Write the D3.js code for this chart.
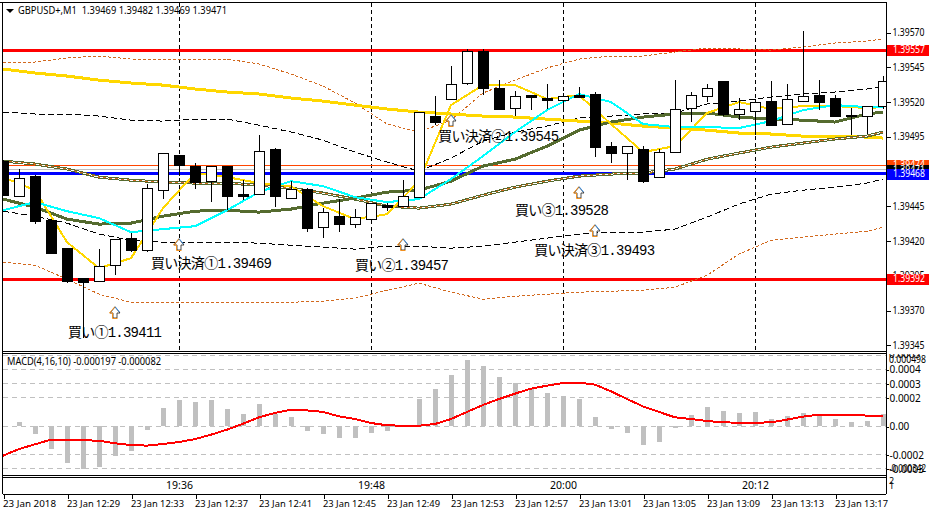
<!DOCTYPE html>
<html><head><meta charset="utf-8">
<script src="https://cdn.jsdelivr.net/npm/d3@7/dist/d3.min.js"></script>
<style>html,body{margin:0;padding:0;background:#fff;overflow:hidden}svg{display:block}</style>
</head><body><svg id="c" width="929" height="515"></svg>
<script>
const open=[1.394771,1.394519,1.394663,1.394346,1.394145,1.393929,1.393907,1.394022,1.394217,1.394130,1.394562,1.394814,1.394735,1.394627,1.394735,1.394534,1.394534,1.394858,1.394505,1.394569,1.394296,1.394375,1.394318,1.394354,1.394454,1.394447,1.394512,1.395095,1.395218,1.395333,1.395563,1.395297,1.395153,1.395246,1.395225,1.395214,1.395246,1.395254,1.394879,1.394829,1.394858,1.394656,1.394836,1.395153,1.395239,1.395347,1.395110,1.395131,1.395203,1.395038,1.395203,1.395246,1.395225,1.395102,1.395095,1.395167];
const close=[1.394526,1.394649,1.394339,1.394109,1.393907,1.393900,1.394015,1.394210,1.394130,1.394577,1.394829,1.394742,1.394620,1.394735,1.394519,1.394519,1.394843,1.394519,1.394569,1.394289,1.394404,1.394318,1.394368,1.394469,1.394440,1.394519,1.395124,1.395052,1.395326,1.395563,1.395297,1.395146,1.395239,1.395232,1.395210,1.395236,1.395232,1.394872,1.394829,1.394879,1.394627,1.394836,1.395146,1.395246,1.395297,1.395110,1.395146,1.395196,1.395030,1.395218,1.395239,1.395196,1.395095,1.395095,1.395167,1.395347];
const high=[1.394778,1.394714,1.394670,1.394346,1.394145,1.393929,1.394138,1.394210,1.394253,1.394606,1.394829,1.394814,1.394757,1.394735,1.394735,1.394634,1.394958,1.394865,1.394627,1.394577,1.394433,1.394498,1.394426,1.394469,1.394469,1.394634,1.395124,1.395239,1.395455,1.395578,1.395578,1.395354,1.395275,1.395246,1.395326,1.395261,1.395304,1.395268,1.394908,1.394879,1.394879,1.394858,1.395354,1.395268,1.395326,1.395347,1.395225,1.395218,1.395347,1.395326,1.395707,1.395354,1.395246,1.395153,1.395167,1.395383];
const low=[1.394526,1.394512,1.394318,1.394102,1.393893,1.393497,1.393907,1.393950,1.394116,1.394116,1.394498,1.394663,1.394569,1.394476,1.394418,1.394490,1.394534,1.394440,1.394505,1.394260,1.394217,1.394260,1.394289,1.394354,1.394411,1.394447,1.394512,1.395030,1.395218,1.395318,1.395246,1.395146,1.395095,1.395138,1.395146,1.395124,1.395232,1.394800,1.394757,1.394634,1.394613,1.394656,1.394836,1.395052,1.395196,1.395095,1.395066,1.394958,1.395030,1.395038,1.395203,1.395138,1.395088,1.394958,1.394966,1.395146];
const lineIndex=[0,2,4,6,8,10,12,14,16,18,20,22,24,26,28,30,32,34,36,38,40,42,44,46,48,50,52,54,55];
const bandOuterUp=[1.395484,1.395484,1.395513,1.395527,1.395505,1.395505,1.395505,1.395505,1.395470,1.395398,1.395311,1.395189,1.395038,1.394980,1.395066,1.395261,1.395354,1.395441,1.395505,1.395527,1.395527,1.395556,1.395585,1.395578,1.395570,1.395592,1.395621,1.395635,1.395650];
const bandInnerUp=[1.395124,1.395110,1.395110,1.395095,1.395066,1.395059,1.395073,1.395073,1.395030,1.394980,1.394922,1.394836,1.394764,1.394699,1.394793,1.394915,1.394980,1.395023,1.395081,1.395095,1.395110,1.395117,1.395182,1.395203,1.395232,1.395254,1.395268,1.395290,1.395304];
const bandInnerLo=[1.394411,1.394375,1.394325,1.394246,1.394202,1.394188,1.394188,1.394188,1.394181,1.394166,1.394152,1.394138,1.394159,1.394159,1.394145,1.394159,1.394188,1.394217,1.394246,1.394260,1.394260,1.394282,1.394368,1.394462,1.394534,1.394562,1.394584,1.394613,1.394642];
const bandOuterLo=[1.394044,1.394022,1.393922,1.393814,1.393756,1.393756,1.393756,1.393756,1.393756,1.393756,1.393763,1.393785,1.393842,1.393893,1.393828,1.393778,1.393799,1.393814,1.393828,1.393835,1.393842,1.393864,1.393950,1.394102,1.394202,1.394224,1.394246,1.394267,1.394296];
const maSlow=[1.395434,1.395405,1.395383,1.395354,1.395333,1.395318,1.395290,1.395268,1.395254,1.395225,1.395203,1.395174,1.395146,1.395124,1.395110,1.395095,1.395088,1.395073,1.395059,1.395045,1.395023,1.395009,1.394994,1.394973,1.394966,1.394951,1.394951,1.394944,1.394937];
const maOlive=[1.394498,1.394440,1.394354,1.394318,1.394325,1.394375,1.394411,1.394418,1.394404,1.394426,1.394469,1.394505,1.394548,1.394562,1.394627,1.394735,1.394785,1.394879,1.394994,1.395052,1.395088,1.395110,1.395117,1.395088,1.395073,1.395066,1.395052,1.395110,1.395124];
const maLong=[1.394771,1.394750,1.394714,1.394656,1.394634,1.394620,1.394613,1.394613,1.394598,1.394577,1.394541,1.394498,1.394447,1.394433,1.394462,1.394526,1.394584,1.394627,1.394663,1.394678,1.394685,1.394714,1.394785,1.394829,1.394872,1.394901,1.394930,1.394951,1.394980];
const maCyan=[1.394418,1.394476,1.394411,1.394361,1.394260,1.394282,1.394303,1.394418,1.394548,1.394627,1.394591,1.394512,1.394476,1.394498,1.394642,1.394807,1.394980,1.395138,1.395254,1.395196,1.395038,1.395016,1.395016,1.395009,1.395059,1.395138,1.395174,1.395160,1.395160];
const maFast=[1.394656,1.394562,1.394188,1.394001,1.394073,1.394433,1.394685,1.394656,1.394613,1.394591,1.394447,1.394354,1.394389,1.394627,1.395174,1.395318,1.395318,1.395218,1.395246,1.395038,1.394836,1.394879,1.395117,1.395196,1.395146,1.395167,1.395167,1.395153,1.395160];
const macdHist=[0.000002,0.000031,-0.000054,-0.00016,-0.000258,-0.000305,-0.000286,-0.000209,-0.000174,-0.000026,0.000129,0.000185,0.000171,0.000185,0.000122,0.000087,0.000157,0.000087,0.000066,-0.000033,-0.000054,-0.000082,-0.000082,-0.000047,-0.000033,-0.000004,0.000192,0.000263,0.000361,0.000467,0.000425,0.000347,0.000305,0.000263,0.000235,0.000214,0.000192,0.000066,-0.000019,-0.000047,-0.000131,-0.00011,-0.000012,0.00008,0.000136,0.000108,0.000094,0.000101,0.000052,0.000073,0.000094,0.000087,0.000052,0.000031,0.000038,0.000087];
const macdSignal=[-0.000209,-0.000162,-0.000129,-0.000096,-0.000099,-0.000101,-0.000103,-0.000122,-0.000134,-0.000138,-0.000127,-0.000113,-0.000092,-0.000061,-0.000026,0.000016,0.000061,0.000092,0.000115,0.00011,0.000099,0.000068,0.000049,0.000021,0.000005,0.000002,0.000002,0.000014,0.000049,0.000099,0.000148,0.00019,0.000228,0.000263,0.000284,0.000303,0.000305,0.000291,0.000244,0.00019,0.000138,0.000099,0.000061,0.000049,0.000035,0.000026,0.000023,0.000023,0.000026,0.000045,0.000066,0.00008,0.00008,0.00008,0.000073,0.000073];
const priceTicks=[1.39570,1.39545,1.39520,1.39495,1.39470,1.39445,1.39420,1.39395,1.39370,1.39345];
const macdTicks=[0.0004,0.0003,0.0002,0,-0.0002,-0.0003];
const macdGrid=[0.0005,0.0004,0.0003,0.0002,0,-0.0002,-0.0003];
const gridIndex=[11,23,35,47];
const gridLabels=["19:36","19:48","20:00","20:12"];
const dateIndex=[0,4,8,12,16,20,24,28,32,36,40,44,48,52];
const dateLabels=["23 Jan 2018","23 Jan 12:29","23 Jan 12:33","23 Jan 12:37","23 Jan 12:41","23 Jan 12:45","23 Jan 12:49","23 Jan 12:53","23 Jan 12:57","23 Jan 13:01","23 Jan 13:05","23 Jan 13:09","23 Jan 13:13","23 Jan 13:17"];
const arrowIndex=[7,11,25,28,36,37];
const arrowPrice=[1.39368,1.39417,1.39417,1.39506,1.39454,1.39427];
const noteText=["買い①1.39411","買い決済①1.39469","買い②1.39457","買い決済②1.39545","買い③1.39528","買い決済③1.39493"];
const noteIndex=[4.06,9.25,22,27.2,32,33.2];
const notePrice=[1.393533,1.39403,1.394013,1.394943,1.394413,1.394123];
const noteWidth=[94,121,94,121,94,121];

const x=d3.scaleLinear().domain([0,55]).range([3,883]);
const y=d3.scaleLinear().domain([1.39570,1.39345]).range([32,344.75]);
const m=d3.scaleLinear().domain([0.0005,-0.0003]).range([355,468.6]);
const ui="'Noto Sans',Tahoma,sans-serif";
const svg=d3.select("#c");
const defs=svg.append("defs");
defs.append("clipPath").attr("id","main").append("rect").attr("x",3).attr("y",3).attr("width",883).attr("height",348);
defs.append("clipPath").attr("id","sub").append("rect").attr("x",3).attr("y",354).attr("width",883).attr("height",121);
const crisp=s=>s.attr("shape-rendering","crispEdges");
const G=svg.append("g").attr("clip-path","url(#main)");

// vertical period separators
crisp(G.append("g").selectAll("line").data(gridIndex).join("line")
 .attr("x1",d=>x(d)+.5).attr("x2",d=>x(d)+.5).attr("y1",3).attr("y2",351)
 .attr("stroke","#000").attr("stroke-dasharray","4,3"));

// level lines
const lineFn=d3.line().x((d,i)=>x(lineIndex[i])).y(d=>y(d));
const hl=(p,c,w)=>crisp(G.append("line").attr("x1",3).attr("x2",886).attr("y1",y(p)).attr("y2",y(p)).attr("stroke",c).attr("stroke-width",w));
hl(1.39474,"#ff4500",1);hl(1.39471,"#c0c0c0",1);
hl(1.39557,"#ff0000",3);hl(1.39392,"#ff0000",3);hl(1.39468,"#0000ff",3);

// indicator lines
const draw=(a,c,w,dash)=>{const p=crisp(G.append("path").attr("d",lineFn(a)).attr("fill","none").attr("stroke",c).attr("stroke-width",w));if(dash)p.attr("stroke-dasharray",dash);return p;};
draw(bandOuterUp,"#d2691e",1,"3,2");draw(bandOuterLo,"#d2691e",1,"3,2");
draw(bandInnerUp,"#000",1,"6,3");draw(bandInnerLo,"#000",1,"6,3");
draw(maSlow,"#ffd700",3);
draw(maLong,"#556b2f",3);draw(maLong,"#fff",1);draw(maLong,"#d2691e",1,"3,3");
draw(maOlive,"#556b2f",3);
draw(maFast,"#ffd700",2);
draw(maCyan,"#00ffff",2);

// candles
const idx=d3.range(open.length);
crisp(G.append("g").selectAll("line").data(idx).join("line")
 .attr("x1",i=>x(i)+.5).attr("x2",i=>x(i)+.5).attr("y1",i=>y(high[i])).attr("y2",i=>y(low[i])).attr("stroke","#000"));
crisp(G.append("g").selectAll("rect").data(idx).join("rect")
 .attr("x",i=>x(i)-4.5).attr("width",10)
 .attr("y",i=>Math.round(y(Math.max(open[i],close[i])))+.5)
 .attr("height",i=>Math.max(1,Math.round(y(Math.min(open[i],close[i])))-Math.round(y(Math.max(open[i],close[i])))))
 .attr("fill",i=>close[i]>=open[i]?"#fff":"#000").attr("stroke","#000"));

// arrows
const arr=G.append("g").selectAll("g").data(arrowIndex).join("g")
 .attr("transform",(d,i)=>`translate(${x(d)},${Math.round(y(arrowPrice[i]))})`);
arr.append("path").attr("d","M0,-6 L5,0 L2,0 L2,5 L-2,5 L-2,0 L-5,0 Z").attr("fill","#fff").attr("stroke","#222").attr("stroke-width",.8);
arr.append("path").attr("d","M0,-6.5 L-5.5,0 L-2.5,0 L-2.5,5.5 L2.5,5.5").attr("fill","none").attr("stroke","#f09020").attr("stroke-width",1);
arr.append("path").attr("d","M0,-6.5 L4.5,-1").attr("fill","none").attr("stroke","#3f8fe0").attr("stroke-width",1);

// notes
G.append("g").selectAll("text").data(noteText).join("text")
 .attr("x",(d,i)=>x(noteIndex[i])).attr("y",(d,i)=>y(notePrice[i]))
 .attr("dominant-baseline","middle")
 .attr("textLength",(d,i)=>noteWidth[i]).attr("lengthAdjust","spacing")
 .attr("font-family","'Liberation Mono','Noto Sans CJK JP'").attr("font-size",14).attr("fill","#000").text(d=>d);

// MACD
const S=svg.append("g").attr("clip-path","url(#sub)");
crisp(S.append("g").selectAll("line").data(macdGrid).join("line")
 .attr("x1",3).attr("x2",886).attr("y1",d=>m(d)).attr("y2",d=>m(d))
 .attr("stroke","#c0c0c0").attr("stroke-dasharray","5,4"));
crisp(S.append("g").selectAll("rect").data(idx).join("rect")
 .attr("x",i=>x(i)-2).attr("width",5)
 .attr("y",i=>Math.min(m(0),m(macdHist[i]))).attr("height",i=>Math.abs(m(macdHist[i])-m(0)))
 .attr("fill","#c0c0c0"));
crisp(S.append("path").attr("d",d3.line().x((d,i)=>x(i)).y(d=>m(d))(macdSignal))
 .attr("fill","none").attr("stroke","#ff0000").attr("stroke-width",2));

// frames
const frame=(a,b,c,d)=>crisp(svg.append("line").attr("x1",a).attr("y1",b).attr("x2",c).attr("y2",d).attr("stroke","#000"));
frame(0,2.5,886,2.5);frame(2.5,2,2.5,494);frame(886.5,2,886.5,494);
frame(3,351.5,886,351.5);frame(3,353.5,886,353.5);
frame(3,475.5,886,475.5);frame(3,477.5,886,477.5);frame(3,494.5,886,494.5);

// axes
const styleAxis=g=>{g.select(".domain").remove();g.selectAll("line").attr("shape-rendering","crispEdges");g.selectAll("text").attr("font-family",ui).attr("fill","#000");};
const pa=svg.append("g").attr("transform","translate(886.5,0.5)")
 .call(d3.axisRight(y).tickValues(priceTicks).tickFormat(d3.format(".5f")).tickSize(4).tickPadding(2)).call(styleAxis);
pa.selectAll("text").attr("font-size",10).attr("textLength",32).attr("lengthAdjust","spacingAndGlyphs");

const ma=svg.append("g").attr("transform","translate(886.5,0.5)")
 .call(d3.axisRight(m).tickValues(macdTicks).tickFormat(d=>d===0?"0.00":d3.format(".4f")(d).replace("−","-")).tickSize(2).tickPadding(1)).call(styleAxis);
ma.selectAll("text").attr("font-size",10);
const extra=(t,px,py,w,fs)=>{const e=svg.append("text").attr("x",px).attr("y",py).attr("dominant-baseline","middle").attr("font-family",ui).attr("font-size",fs||10).attr("fill","#000").text(t);if(w)e.attr("textLength",w).attr("lengthAdjust","spacingAndGlyphs");return e;};
extra("0.000498",889,360.5,37);
extra("-0.000342",889,469,37);
svg.append("clipPath").attr("id","top").append("rect").attr("x",887).attr("y",354).attr("width",42).attr("height",12);
extra("0.0005",889,355.5).attr("clip-path","url(#top)");

// price boxes
const boxes=[[1.39557,"#ff0000"],[1.39392,"#ff0000"],[1.39474,"#ff4500"],[1.39471,"#000000"],[1.39468,"#0000ff"]];
boxes.forEach(([p,c])=>{
 const yy=Math.round(y(p));
 crisp(svg.append("rect").attr("x",887).attr("y",yy-5.5).attr("width",42).attr("height",11).attr("fill",c));
 svg.append("text").attr("x",893).attr("y",yy).attr("dominant-baseline","middle").attr("font-family",ui).attr("font-size",10).attr("fill","#fff")
  .attr("textLength",32).attr("lengthAdjust","spacingAndGlyphs").text(d3.format(".5f")(p));
});

// time bar
const t1=svg.append("g").attr("transform","translate(0,477)")
 .call(d3.axisBottom(x).tickValues(gridIndex).tickFormat((d,i)=>gridLabels[i]).tickSize(0).tickPadding(4)).call(styleAxis);
t1.selectAll("text").attr("font-size",10.5).attr("dy",".75em");
const t2=svg.append("g").attr("transform","translate(0.5,494.5)")
 .call(d3.axisBottom(x).tickValues(dateIndex).tickFormat((d,i)=>dateLabels[i]).tickSize(4).tickPadding(4)).call(styleAxis);
t2.selectAll("text").attr("font-size",9.5).attr("text-anchor","start").attr("textLength",53).attr("lengthAdjust","spacingAndGlyphs").attr("dx",-1).attr("dy",".45em");
extra("2",889,482,null,9);extra("1",889,487,null,9);

// titles
svg.append("path").attr("d",d3.line()([[6,9],[14,9],[10,13]])+"Z").attr("fill","#000");
extra("GBPUSD+,M1  1.39469 1.39482 1.39469 1.39471",18,11,209,10.5).attr("xml:space","preserve");
extra("MACD(4,16,10) -0.000197 -0.000082",7,362.5,154,10);
</script></body></html>
